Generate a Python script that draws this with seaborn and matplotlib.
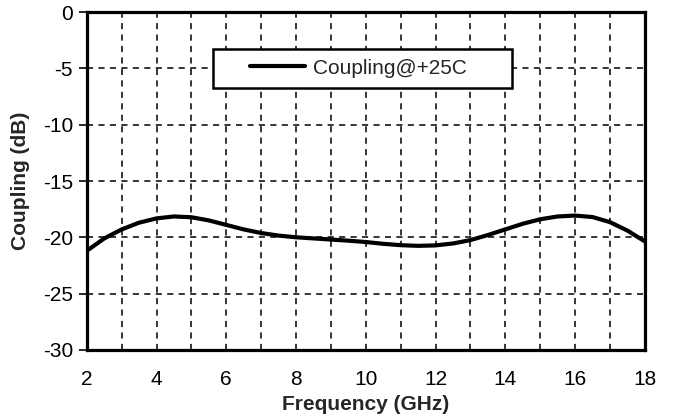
import matplotlib
matplotlib.use("Agg")
import matplotlib.pyplot as plt
from matplotlib.patches import Rectangle
import pandas as pd
import seaborn as sns

# values
freq_ghz = [2, 2.5, 3, 3.5, 4, 4.5, 5, 5.5, 6, 6.5, 7, 7.5, 8, 8.5, 9, 9.5, 10,
            10.5, 11, 11.5, 12, 12.5, 13, 13.5, 14, 14.5, 15, 15.5, 16, 16.5,
            17, 17.5, 18]
coupling_db = [-21.2, -20.1, -19.3, -18.7, -18.32, -18.15, -18.22, -18.5,
               -18.9, -19.3, -19.62, -19.85, -20.0, -20.1, -20.2, -20.3,
               -20.42, -20.58, -20.7, -20.76, -20.72, -20.55, -20.25, -19.8,
               -19.3, -18.8, -18.4, -18.15, -18.07, -18.2, -18.65, -19.4,
               -20.36]
x_ticks = [2, 4, 6, 8, 10, 12, 14, 16, 18]
y_ticks = [0, -5, -10, -15, -20, -25, -30]

df = pd.DataFrame({"Frequency (GHz)": freq_ghz, "Coupling (dB)": coupling_db})

sns.set_style("white")
plt.rcParams["font.family"] = ["Liberation Sans", "DejaVu Sans"]
plt.rcParams["axes.unicode_minus"] = False

fig = plt.figure(figsize=(6.73, 4.19), dpi=100)
ax = fig.add_axes([0.129, 0.165, 0.829, 0.806])

sns.lineplot(data=df, x="Frequency (GHz)", y="Coupling (dB)", ax=ax,
             color="black", linewidth=3, label="Coupling@+25C")
ax.lines[0].set_solid_joinstyle("round")

ax.set_xlim(2, 18)
ax.set_ylim(-30, 0)
ax.set_xticks(x_ticks)
ax.set_yticks(y_ticks)
ax.set_xticks(range(3, 18), minor=True)

dash = (0, (4, 3.5))
ax.grid(True, which="both", axis="x", color="black", linestyle=dash, linewidth=1.1)
ax.grid(True, which="major", axis="y", color="black", linestyle=dash, linewidth=1.1)
ax.set_axisbelow(True)

ax.tick_params(axis="y", which="major", left=True, length=6, width=1.2,
               labelsize=15, pad=4, colors="black")
ax.tick_params(axis="x", which="both", bottom=False, labelsize=15, pad=11, colors="black")

for s in ax.spines.values():
    s.set_linewidth(2.3)
    s.set_color("black")

ax.set_xlabel("Frequency (GHz)", fontsize=15, fontweight="bold", labelpad=4)
ax.set_ylabel("Coupling (dB)", fontsize=15, fontweight="bold", labelpad=9)

# legend box (wider than its content, as in the reference)
ax.add_patch(Rectangle((0.226, 0.775), 0.536, 0.115, transform=ax.transAxes,
                       facecolor="white", edgecolor="black", linewidth=1.8, zorder=4))
leg = ax.legend(loc="center left", bbox_to_anchor=(0.292, 0.834), fontsize=15,
                frameon=False, handlelength=2.65, handletextpad=0.4,
                borderpad=0, borderaxespad=0)
leg.set_zorder(5)

fig.savefig("out.png", dpi=100)
